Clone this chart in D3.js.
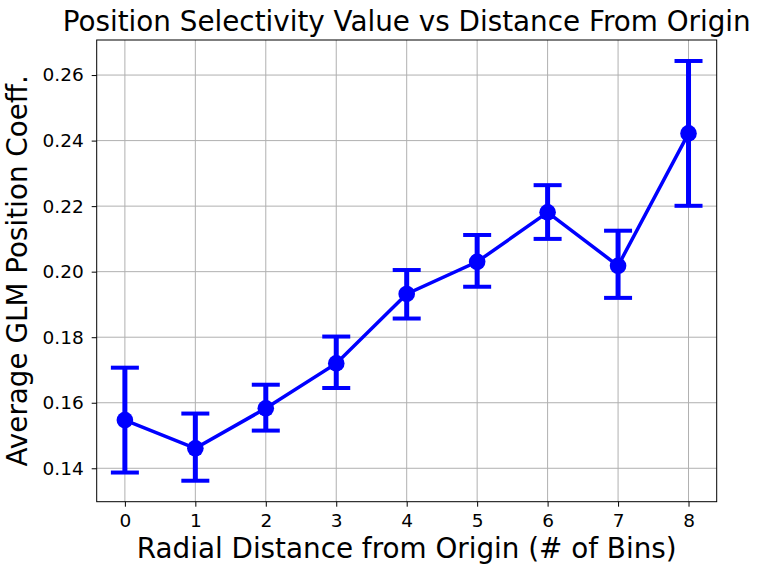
<!DOCTYPE html>
<html><head><meta charset="utf-8">
<script src="https://cdn.jsdelivr.net/npm/d3@7"></script>
<style>body{margin:0;background:#fff}svg{display:block;font-family:"DejaVu Sans",sans-serif}</style>
</head><body><svg id="c" width="760" height="574"></svg>
<script>
const distances = [0,1,2,3,4,5,6,7,8];
const means = [0.1547,0.1461,0.1583,0.1720,0.1932,0.2030,0.2181,0.2018,0.2422];
const upper = [0.1707,0.1567,0.1655,0.1802,0.2005,0.2112,0.2264,0.2125,0.2643];
const lower = [0.1387,0.1362,0.1515,0.1645,0.1857,0.1954,0.2100,0.1920,0.2201];
const xTicks = [0,1,2,3,4,5,6,7,8];
const yTicks = [0.14,0.16,0.18,0.20,0.22,0.24,0.26];

const L=96.7,R=716.7,T=40,B=501.7;
const svg=d3.select("#c");
const x=d3.scaleLinear().domain([-0.4,8.4]).range([L,R]);
const y=d3.scaleLinear().domain([0.1298,0.2707]).range([B,T]);
const blue="#0000ff";

// grid
svg.append("g").selectAll("line").data(xTicks).join("line")
  .attr("x1",d=>x(d)).attr("x2",d=>x(d)).attr("y1",T).attr("y2",B)
  .attr("stroke","#b0b0b0").attr("stroke-width",1);
svg.append("g").selectAll("line").data(yTicks).join("line")
  .attr("y1",d=>y(d)).attr("y2",d=>y(d)).attr("x1",L).attr("x2",R)
  .attr("stroke","#b0b0b0").attr("stroke-width",1);

// axes
const xa=svg.append("g").attr("transform",`translate(0,${B})`)
  .call(d3.axisBottom(x).tickValues(xTicks).tickFormat(d3.format("d")).tickSize(5).tickPadding(7));
const ya=svg.append("g").attr("transform",`translate(${L},0)`)
  .call(d3.axisLeft(y).tickValues(yTicks).tickFormat(d3.format(".2f")).tickSize(5).tickPadding(8));
[xa,ya].forEach(a=>{a.select(".domain").remove();a.selectAll("text").attr("font-size",18.5).attr("font-family","DejaVu Sans").attr("fill","#000");a.selectAll("line").attr("stroke","#000").attr("stroke-width",1);});

// error bars
const g=svg.append("g");
g.selectAll("line.eb").data(distances).join("line").attr("class","eb")
  .attr("x1",d=>x(d)).attr("x2",d=>x(d)).attr("y1",(d,i)=>y(upper[i])).attr("y2",(d,i)=>y(lower[i]))
  .attr("stroke",blue).attr("stroke-width",5);
[upper,lower].forEach(arr=>{
  g.append("g").selectAll("line").data(distances).join("line")
   .attr("x1",d=>x(d)-14).attr("x2",d=>x(d)+14).attr("y1",(d,i)=>y(arr[i])).attr("y2",(d,i)=>y(arr[i]))
   .attr("stroke",blue).attr("stroke-width",4);
});
g.append("path").datum(distances)
  .attr("d",d3.line().x(d=>x(d)).y((d,i)=>y(means[i])))
  .attr("fill","none").attr("stroke",blue).attr("stroke-width",3.5);
g.selectAll("circle").data(distances).join("circle")
  .attr("cx",d=>x(d)).attr("cy",(d,i)=>y(means[i])).attr("r",8.3).attr("fill",blue);

// frame
svg.append("rect").attr("x",L).attr("y",T).attr("width",R-L).attr("height",B-T)
  .attr("fill","none").attr("stroke","#000").attr("stroke-width",1);

svg.append("text").attr("x",(L+R)/2).attr("y",31).attr("text-anchor","middle")
  .attr("font-size",27.8).text("Position Selectivity Value vs Distance From Origin");
svg.append("text").attr("x",(L+R)/2).attr("y",558).attr("text-anchor","middle")
  .attr("font-size",27.8).text("Radial Distance from Origin (# of Bins)");
svg.append("text").attr("transform",`translate(27,${(T+B)/2}) rotate(-90)`).attr("text-anchor","middle")
  .attr("font-size",27.8).text("Average GLM Position Coeff.");
</script></body></html>
